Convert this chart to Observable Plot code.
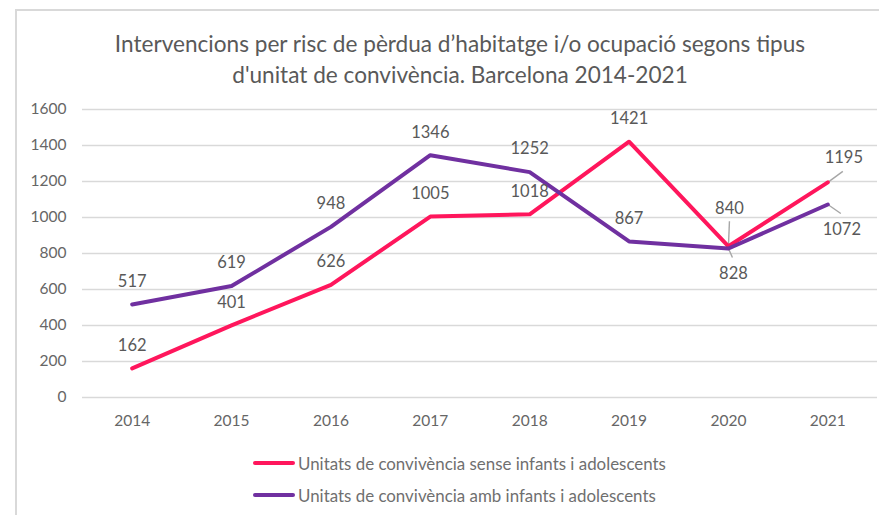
<!DOCTYPE html>
<html>
<head>
<meta charset="utf-8">
<script src="https://cdn.jsdelivr.net/npm/d3@7"></script>
<script src="https://cdn.jsdelivr.net/npm/@observablehq/plot@0.6"></script>
<style>
  html, body { margin: 0; padding: 0; background: #fff; overflow: hidden; }
  body { width: 879px; height: 515px; position: relative; font-family: Lato, "Open Sans", sans-serif; color: #595959; }
  #frame { position: absolute; left: 15px; top: 9px; width: 900px; height: 600px; border-left: 2px solid #d9d9d9; border-top: 2px solid #d9d9d9; box-sizing: border-box; }
  #title { position: absolute; left: 0; width: 920px; top: 28px; text-align: center; font-size: 22.6px; line-height: 31px; color: #595959; }
  #chart { position: absolute; left: 0; top: 95px; }
  .leg { position: absolute; left: 253px; display: flex; align-items: center; font-size: 16.9px; color: #6f6f6f; white-space: nowrap; }
  .sw { width: 42px; height: 4px; border-radius: 2px; margin-right: 3px; }
</style>
</head>
<body>
<div id="frame"></div>
<div id="title">Intervencions per risc de pèrdua d’habitatge i/o ocupació segons tipus<br>d'unitat de convivència. Barcelona 2014-2021</div>
<div id="chart"></div>
<div id="legend"></div>
<script>
const years = [2014, 2015, 2016, 2017, 2018, 2019, 2020, 2021];
const senseValues = [162, 401, 626, 1005, 1018, 1421, 840, 1195];
const ambValues = [517, 619, 948, 1346, 1252, 867, 828, 1072];
const seriesNames = [
  "Unitats de convivència sense infants i adolescents",
  "Unitats de convivència amb infants i adolescents"
];
const seriesColors = ["#ff165c", "#7030a0"];
const yTicks = [0, 200, 400, 600, 800, 1000, 1200, 1400, 1600];

const rows = [];
years.forEach((yr, i) => {
  rows.push({year: yr, value: senseValues[i], series: seriesNames[0]});
  rows.push({year: yr, value: ambValues[i], series: seriesNames[1]});
});

// callout labels with leader lines (offsets in px)
const callouts = [
  {year: 2020, value: 840, lx: 1, ly: -25, tx: 1, ty: -38},
  {year: 2020, value: 828, lx: 4, ly: 9, tx: 5, ty: 25},
  {year: 2021, value: 1195, lx: 15, ly: -11, tx: 16, ty: -25},
  {year: 2021, value: 1072, lx: 13, ly: 9, tx: 14, ty: 25}
];
const isCallout = d => callouts.some(c => c.year === d.year && c.value === d.value);

const W = 879, H = 345, mL = 82, mR = 2, mT = 14, mB = 43;
const xDomain = [2013.5, 2021.5], yDomain = [0, 1600];
const pxX = (W - mL - mR) / (xDomain[1] - xDomain[0]);
const pxY = (H - mT - mB) / (yDomain[1] - yDomain[0]);

const marks = [
  Plot.gridY(yTicks, {stroke: "#d9d9d9", strokeOpacity: 1, strokeWidth: 1.3}),
  Plot.axisY(yTicks, {tickSize: 0, tickPadding: 16, fontSize: 15.5, fill: "#666666", label: null, tickFormat: d => String(d)}),
  Plot.axisX(years, {tickSize: 0, tickPadding: 17, fontSize: 15.5, fill: "#666666", label: null, tickFormat: d => String(d)}),
  Plot.link(callouts, {
    x1: "year", y1: "value",
    x2: d => d.year + d.lx / pxX, y2: d => d.value - d.ly / pxY,
    stroke: "#a6a6a6", strokeWidth: 1.4
  }),
  Plot.line(rows, {x: "year", y: "value", z: "series", stroke: "series", strokeWidth: 4, strokeLinecap: "round", strokeLinejoin: "round"}),
  Plot.text(rows.filter(d => !isCallout(d)), {x: "year", y: "value", text: d => String(d.value), dy: -23, fontSize: 16.5, fill: "#595959"}),
  Plot.text(callouts, {x: d => d.year + d.tx / pxX, y: d => d.value - d.ty / pxY, text: d => String(d.value), fontSize: 16.5, fill: "#595959"})
];

const chart = Plot.plot({
  width: W, height: H,
  marginLeft: mL, marginRight: mR, marginTop: mT, marginBottom: mB,
  style: {fontFamily: "Lato, 'Open Sans', sans-serif", background: "transparent", overflow: "visible"},
  x: {domain: xDomain, axis: null},
  y: {domain: yDomain, axis: null},
  color: {domain: seriesNames, range: seriesColors},
  marks
});
document.getElementById("chart").appendChild(chart);

const legend = document.getElementById("legend");
const legendTops = [453, 485];
seriesNames.forEach((name, i) => {
  const el = document.createElement("div");
  el.className = "leg";
  el.style.top = legendTops[i] + "px";
  el.style.height = "20px";
  el.innerHTML = `<div class="sw" style="background:${seriesColors[i]}"></div><span>${name}</span>`;
  legend.appendChild(el);
});
</script>
</body>
</html>
